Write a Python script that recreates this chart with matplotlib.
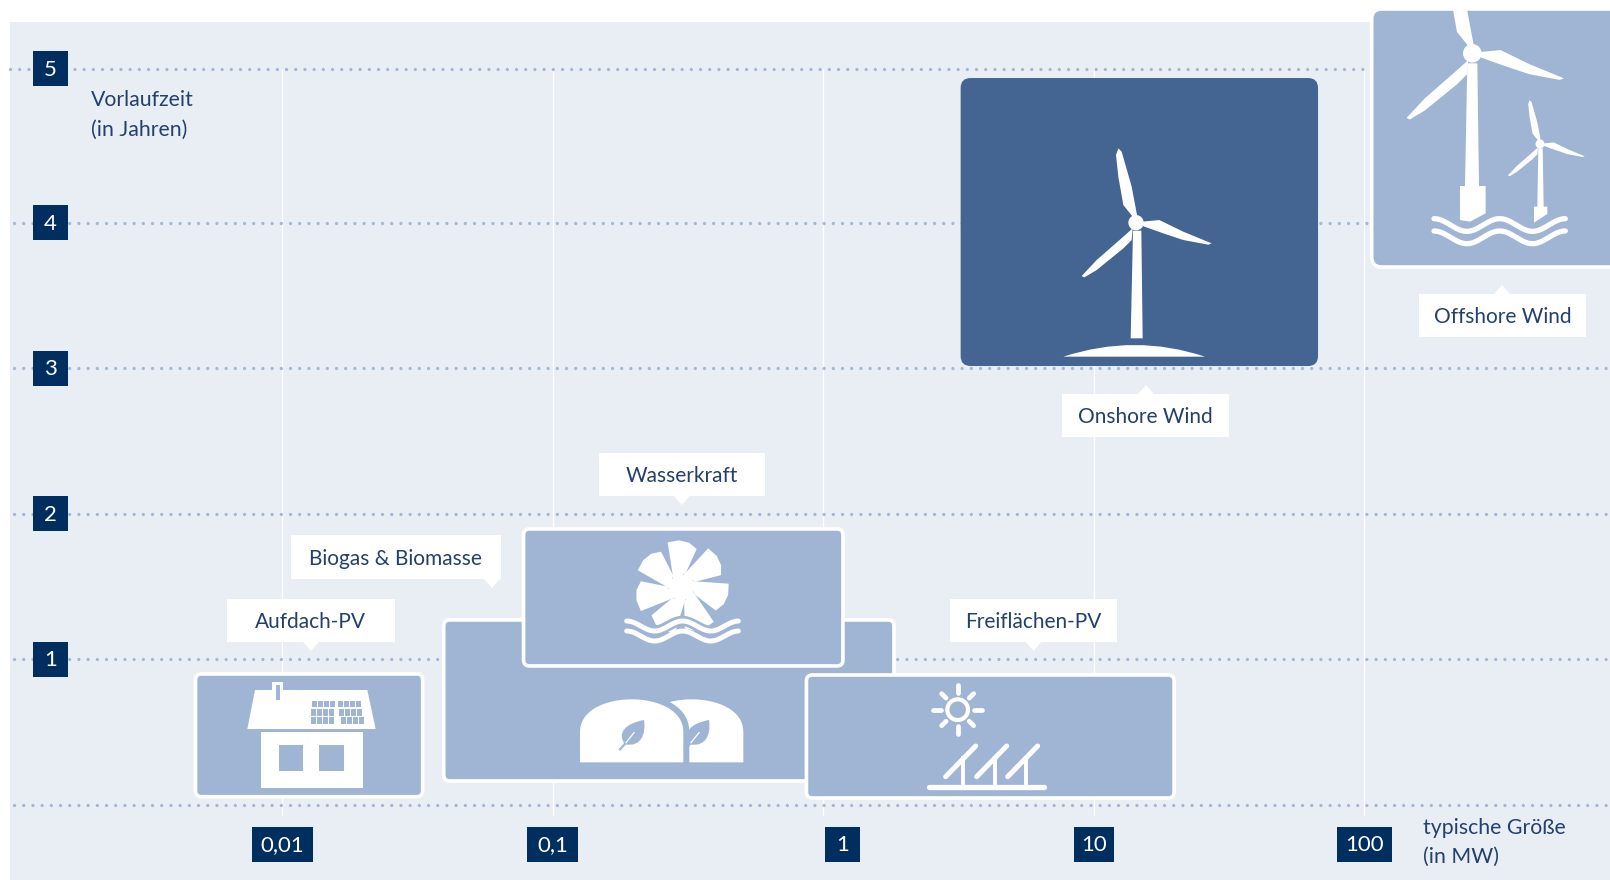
import numpy as np
import matplotlib
matplotlib.use("Agg")
import matplotlib.pyplot as plt
from matplotlib.patches import FancyBboxPatch, Polygon, Rectangle, PathPatch, Circle
from matplotlib.path import Path
from matplotlib.transforms import Affine2D, IdentityTransform

plt.rcParams['font.family'] = ['Lato', 'DejaVu Sans']

# data
techs = ["Aufdach-PV", "Biogas & Biomasse", "Wasserkraft", "Freiflächen-PV", "Onshore Wind", "Offshore Wind"]
size_lo = [0.00479, 0.0396, 0.0781, 0.867, 3.22, 106.4]
size_hi = [0.0331, 1.826, 1.183, 19.8, 67.4, 900]
lead_lo = [0.057, 0.165, 0.955, 0.048, 3.015, 3.695]
lead_hi = [0.900, 1.271, 1.896, 0.893, 4.993, 5.467]

x_ticks = [0.01, 0.1, 1, 10, 100]
x_labels = ["0,01", "0,1", "1", "10", "100"]
x_label_at = [0.01, 0.1, 1.18, 10, 100]
y_labels = ["1", "2", "3", "4", "5"]
y_ticks = [1, 2, 3, 4, 5.055]

BG = "#e9eef5"
BOX = "#a0b5d3"
DARK = "#446491"
NAVY = "#002f5f"
DOT = "#a3b8d6"
TXT = "#24406b"
W = "white"

fig = plt.figure(figsize=(16.1, 8.8), dpi=100)
ax = fig.add_axes([0, 0, 1, 1])
ax.set_xscale("log")
x0_px, decade = 282, 270.6
y0_px, year = 805, 145.6
ax.set_xlim(10 ** (-x0_px / decade - 2), 10 ** ((1610 - x0_px) / decade - 2))
ax.set_ylim((y0_px - 880) / year, y0_px / year)
ax.axis("off")
disp = IdentityTransform()


def px(x, y):
    return x, 880 - y


def local(ox, oy, s=1 / 3):
    # zoomed icon coordinates -> figure pixels
    return Affine2D().scale(s, -s).translate(ox, 880 - oy)


def rect(x0, y0, x1, y1, color, z, tr=disp):
    if tr is disp:
        y0, y1 = 880 - y0, 880 - y1
    p = Rectangle((x0, y0), x1 - x0, y1 - y0, fc=color, ec="none", transform=tr, zorder=z)
    ax.add_patch(p)
    return p


# background
rect(9.5, 22, 1610, 880, BG, 0)

# grid
dots = (0, (0.01, 2.75))
for t in x_ticks:
    ax.plot([t, t], [-0.07, y_ticks[-1]], color=W, lw=0.95, zorder=1)
x_start = 10 ** ((14 - x0_px) / decade - 2)
x_far = 10 ** ((9.5 - x0_px) / decade - 2)
for t in [0] + y_ticks:
    ax.plot([x_far if t == y_ticks[-1] else x_start, ax.get_xlim()[1]], [t, t],
            color=DOT, lw=2.4, ls=dots, dash_capstyle="round", zorder=2)

# tick boxes
for lab, at in zip(x_labels, x_label_at):
    cx = ax.transData.transform((at, 0))[0]
    w = {4: 61, 3: 51 if lab == "0,1" else 55, 2: 40, 1: 35}[len(lab)]
    rect(cx - w / 2, 827, cx + w / 2, 862, NAVY, 6)
    ax.text(*px(cx, 845), lab, color=W, fontsize=16, ha="center", va="center",
            transform=disp, zorder=7)
for lab, t in zip(y_labels, y_ticks):
    cy = 880 - ax.transData.transform((1, t))[1]
    rect(33, cy - 17.5, 68, cy + 17.5, NAVY, 6)
    ax.text(*px(50.5, cy + 1), lab, color=W, fontsize=16, ha="center", va="center",
            transform=disp, zorder=7)

ax.text(*px(91, 100), "Vorlaufzeit", color=TXT, fontsize=15.3, va="center", transform=disp, zorder=7)
ax.text(*px(91, 130), "(in Jahren)", color=TXT, fontsize=15.3, va="center", transform=disp, zorder=7)
ax.text(*px(1423, 828), "typische Größe", color=TXT, fontsize=15.3, va="center", transform=disp, zorder=7)
ax.text(*px(1423, 857), "(in MW)", color=TXT, fontsize=15.3, va="center", transform=disp, zorder=7)

# boxes
z_order = [3, 3.2, 3.6, 3.6, 3, 3]
fills = [BOX, BOX, BOX, BOX, DARK, BOX]
borders = [W, W, W, W, "none", W]
boxes = {}
for name, a, b, c, d, z, f, e in zip(techs, size_lo, size_hi, lead_lo, lead_hi, z_order, fills, borders):
    (xa, ya), (xb, yb) = ax.transData.transform([(a, c), (b, d)])
    r = 10 if name.endswith("Wind") else 6
    p = FancyBboxPatch((xa + r, ya + r), xb - xa - 2 * r, yb - ya - 2 * r,
                       boxstyle=f"round,pad={r},rounding_size={r}", fc=f, ec=e, lw=2.6,
                       transform=disp, zorder=z)
    ax.add_patch(p)
    boxes[name] = p

# callouts: label box and tail tip, figure pixels
call_box = {"Aufdach-PV": (226.7, 599, 394.5, 641.7), "Biogas & Biomasse": (290.5, 535, 500.8, 579),
            "Wasserkraft": (598.6, 453, 765, 495.7), "Freiflächen-PV": (950, 599, 1116.7, 641.7),
            "Onshore Wind": (1061.7, 394, 1229, 436.7), "Offshore Wind": (1419, 294, 1586, 336.7)}
call_tip = {"Aufdach-PV": (311, 651), "Biogas & Biomasse": (492, 588), "Wasserkraft": (682, 505),
            "Freiflächen-PV": (1033.6, 651), "Onshore Wind": (1146, 385), "Offshore Wind": (1502, 285)}
for name in techs:
    x0, y0, x1, y1 = call_box[name]
    tx, ty = call_tip[name]
    rect(x0, y0, x1, y1, W, 5)
    base = y1 if ty > y1 else y0
    ax.add_patch(Polygon([px(tx - 8, base), px(tx + 8, base), px(tx, ty)], fc=W, ec="none",
                         transform=disp, zorder=5))
    ax.text(*px((x0 + x1) / 2, (y0 + y1) / 2 + 2), name, color=TXT, fontsize=15, ha="center",
            va="center", transform=disp, zorder=6)


# icons
def poly(pts, tr, z, color=W, clip=None):
    p = Polygon(pts, fc=color, ec="none", transform=tr, zorder=z)
    ax.add_patch(p)
    if clip is not None:
        p.set_clip_path(clip)
    return p


def wave(x0, x1, ym, amp, period, tr, z, lw, color=W):
    x = np.linspace(x0, x1, 200)
    y = ym - amp * np.cos(2 * np.pi * (x - x0) / period)
    ax.plot(x, y, color=color, lw=lw, solid_capstyle="round", transform=tr, zorder=z)


blade_up = [(505, 235), (498, 255), (505, 320), (520, 405), (548, 440), (562, 440), (545, 350), (515, 245)]
blade_right = [(575, 455), (628, 450), (700, 485), (785, 520), (775, 524), (700, 510), (640, 490), (578, 468)]
blade_left = [(548, 475), (545, 510), (520, 535), (440, 600), (403, 622), (395, 618), (440, 570), (520, 500)]


def turbine(hx, hy, s, clip=None):
    tr = Affine2D().translate(-558, -458).scale(s / 3, -s / 3).translate(hx, 880 - hy)
    for b in (blade_up, blade_right, blade_left):
        poly(b, tr, 4, clip=clip)
    c = Circle((558, 458), 23, fc=W, ec="none", transform=tr, zorder=4)
    ax.add_patch(c)


# onshore
turbine(1136, 222.7, 1)
tr = local(950, 70)
poly([(549, 482), (574, 482), (578, 805), (542, 805)], tr, 4)
ax.add_patch(PathPatch(Path([(340, 860), (555, 790), (765, 860), (340, 860)],
                            [Path.MOVETO, Path.CURVE3, Path.CURVE3, Path.CLOSEPOLY]),
                       fc=W, ec="none", transform=tr, zorder=4))

# offshore
clip = boxes["Offshore Wind"]
turbine(1472.3, 53.3, 1.21, clip=clip)
turbine(1540, 144, 0.59)
tr = local(1330, 0)
poly([(412, 190), (442, 190), (447, 560), (405, 560)], tr, 4)
poly([(390, 558), (467, 558), (467, 640), (420, 665), (390, 660)], tr, 4)
poly([(625, 445), (638, 445), (641, 622), (622, 622)], tr, 4)
poly([(612, 620), (652, 620), (652, 642), (612, 668)], tr, 4)
wave(312, 706, 675, 19, 197, tr, 4, 3.8)
wave(312, 706, 712, 19, 197, tr, 4, 3.8)

# house
tr = local(240, 675)
poly([(45, 45), (382, 45), (407, 162), (22, 162)], tr, 4)
poly([(97, 22), (128, 22), (128, 50), (97, 50)], tr, 4)
poly([(108, 30), (120, 30), (120, 75), (108, 75)], tr, 4.1, BOX)
poly([(62, 172), (368, 172), (368, 340), (62, 340)], tr, 4)
poly([(118, 210), (190, 210), (190, 288), (118, 288)], tr, 4.1, BOX)
poly([(238, 210), (312, 210), (312, 288), (238, 288)], tr, 4.1, BOX)
for r, (ya, yb) in enumerate([(78, 97), (102, 122), (127, 146)]):
    for g, start in enumerate([215, 294]):
        for c in range(4):
            xa = start + 18 * c + (r * 4 if g else -r)
            poly([(xa, ya), (xa + 15, ya), (xa + 15, yb), (xa, yb)], tr, 4.1, BOX)

# biogas domes
tr = local(570, 690)


def dome(cx, a, b, left, right, color, z, base=217, cy=130):
    t = np.linspace(np.pi, 0, 80)
    pts = [(cx + a * np.cos(v), cy - b * np.sin(v) ** 0.85) for v in t]
    pts = [(np.clip(x, left, right), y) for x, y in pts]
    poly([(left, base)] + pts + [(right, base)], tr, z, color)


dome(365, 155, 102, 300, 520, W, 4)
dome(185, 173, 120, 10, 358, BOX, 4.1, base=230)
dome(185, 155, 102, 30, 340, W, 4.2)
leaf = Path([(165, 163), (140, 130), (165, 100), (222, 90), (228, 130), (215, 172), (165, 163), (165, 163)],
            [Path.MOVETO, Path.CURVE4, Path.CURVE4, Path.CURVE4, Path.CURVE4, Path.CURVE4, Path.CURVE4, Path.CLOSEPOLY])
for dx in (0, 195):
    tl = Affine2D().translate(dx, 0) + tr
    ax.add_patch(PathPatch(leaf, fc=BOX, ec="none", transform=tl, zorder=4.3))
    ax.plot([150, 168], [178, 158], color=BOX, lw=1.6, transform=tl, zorder=4.3)
    ax.plot([168, 192], [158, 128], color=W, lw=0.9, transform=tl, zorder=4.4)

# water wheel
tr = local(610, 530)
blade = np.array([(-42, -135), (-8, -141), (22, -134), (45, -115), (12, -42), (-25, -25)], float)
for i in range(7):
    a = np.radians(360 / 7 * i)
    rot = np.array([[np.cos(a), -np.sin(a)], [np.sin(a), np.cos(a)]])
    poly(blade @ rot.T + (215, 172), tr, 4.3)
ax.add_patch(Circle((215, 172), 38, fc=W, ec="none", transform=tr, zorder=4.3))
wave(45, 390, 288, 15, 172, tr, 4.4, 7.5, BOX)
wave(50, 385, 288, 15, 168, tr, 4.5, 3.6)
wave(50, 385, 318, 15, 168, tr, 4.5, 3.6)

# sun and solar panels
tr = local(915, 675)
ax.add_patch(Circle((128, 104), 31, fc="none", ec=W, lw=3.0, transform=tr, zorder=4.8))
for k in range(8):
    a = np.radians(45 * k)
    r0, r1 = (49, 74) if k % 2 == 0 else (49, 68)
    ax.plot([128 + r0 * np.cos(a), 128 + r1 * np.cos(a)], [104 + r0 * np.sin(a), 104 + r1 * np.sin(a)],
            color=W, lw=3.4, solid_capstyle="round", transform=tr, zorder=4.8)
for dx, sx in zip((0, 93, 186), (145, 240, 332)):
    ax.plot([92 + dx, 182 + dx], [305, 213], color=W, lw=3.6, solid_capstyle="round", transform=tr, zorder=4.8)
    ax.plot([sx, sx], [250, 335], color=W, lw=2.8, transform=tr, zorder=4.8)
ax.plot([42, 388], [335, 335], color=W, lw=3.8, solid_capstyle="round", transform=tr, zorder=4.8)

fig.savefig("out.png", dpi=100, facecolor="white")
